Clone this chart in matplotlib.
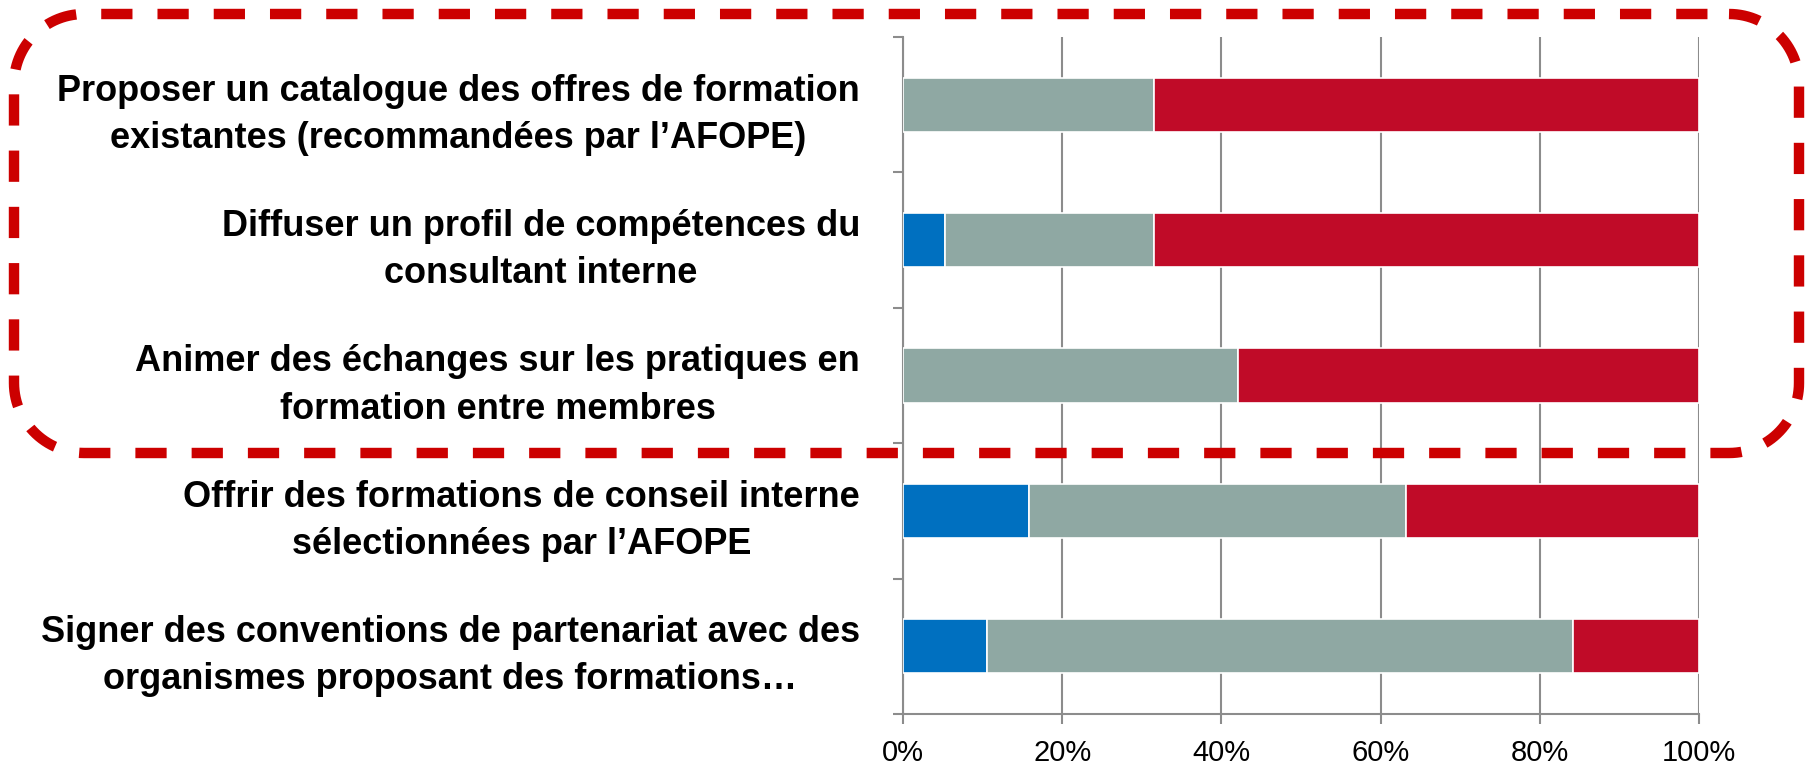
import numpy as np
import matplotlib
matplotlib.use("Agg")
import matplotlib.pyplot as plt
from matplotlib.patches import PathPatch
from matplotlib.path import Path

# survey answers (% of respondents), top to bottom
categories = [
    "Proposer un catalogue des offres de formation\nexistantes (recommandées par l’AFOPE)",
    "Diffuser un profil de compétences du\nconsultant interne",
    "Animer des échanges sur les pratiques en\nformation entre membres",
    "Offrir des formations de conseil interne\nsélectionnées par l’AFOPE",
    "Signer des conventions de partenariat avec des\norganismes proposant des formations…",
]
blue_vals = [0.0, 5.26, 0.0, 15.79, 10.53]
grey_vals = [31.58, 26.32, 42.11, 47.37, 73.68]
red_vals = [68.42, 68.42, 57.89, 36.84, 15.79]
x_ticks = [0, 20, 40, 60, 80, 100]
x_labels = ["0%", "20%", "40%", "60%", "80%", "100%"]

col_blue = "#0070C0"
col_grey = "#8FA8A3"
col_red = "#C00B28"
col_axis = "#8C8C8C"

plt.rcParams['font.family'] = ['Liberation Sans', 'DejaVu Sans']

W, H = 1806, 768
fig = plt.figure(figsize=(W / 100, H / 100), dpi=100)
ax = fig.add_axes([903 / W, 1 - 714 / H, (1699 - 903) / W, (714 - 37) / H])

y = np.arange(len(categories))
h = 0.4
blue = np.array(blue_vals)
grey = np.array(grey_vals)
red = np.array(red_vals)
ax.barh(y, blue, height=h, color=col_blue, edgecolor="white", linewidth=1.2, zorder=3)
ax.barh(y, grey, left=blue, height=h, color=col_grey, edgecolor="white", linewidth=1.2, zorder=3)
ax.barh(y, red, left=blue + grey, height=h, color=col_red, edgecolor="white", linewidth=1.2, zorder=3)

ax.set_xlim(0, 100)
ax.set_ylim(len(categories) - 0.5, -0.5)

ax.set_xticks(x_ticks)
ax.set_xticklabels(x_labels, fontsize=21)
ax.set_yticks(y)
ax.set_yticklabels(categories, fontsize=26, fontweight="bold", linespacing=1.45,
                   multialignment="center")
ax.set_yticks(np.arange(len(categories) + 1) - 0.5, minor=True)
ax.tick_params(axis="y", which="major", length=0, pad=31)
ax.tick_params(axis="y", which="minor", length=7.5, width=1.5, color=col_axis, direction="out")
ax.tick_params(axis="x", length=7, width=1.5, color=col_axis, pad=11)

ax.grid(axis="x", color=col_axis, linewidth=1.5, zorder=0)
ax.set_axisbelow(True)
for s in ["top", "right"]:
    ax.spines[s].set_visible(False)
for s in ["left", "bottom"]:
    ax.spines[s].set_color(col_axis)
    ax.spines[s].set_linewidth(1.5)

# dashed rounded frame around the first three items, built in image pixels
left, right, top, bottom, r = 14, 1799, 14, 453, 70
pts = []
corners = [(right - r, top + r, -90, 0), (right - r, bottom - r, 0, 90),
           (left + r, bottom - r, 90, 180), (left + r, top + r, 180, 270)]
for cx, cy, a0, a1 in corners:
    t = np.radians(np.linspace(a0, a1, 30))
    pts += list(zip(cx + r * np.cos(t), cy + r * np.sin(t)))
pts.append(pts[0])
pts = np.array(pts)
pts = np.column_stack([pts[:, 0] / W, 1 - pts[:, 1] / H])
frame = PathPatch(Path(pts), transform=fig.transFigure, fill=False,
                  edgecolor="#CC0000", linewidth=7.5,
                  linestyle=(0, (3.0, 2.4)), zorder=10)
fig.patches.append(frame)

fig.savefig("out.png", dpi=100)
